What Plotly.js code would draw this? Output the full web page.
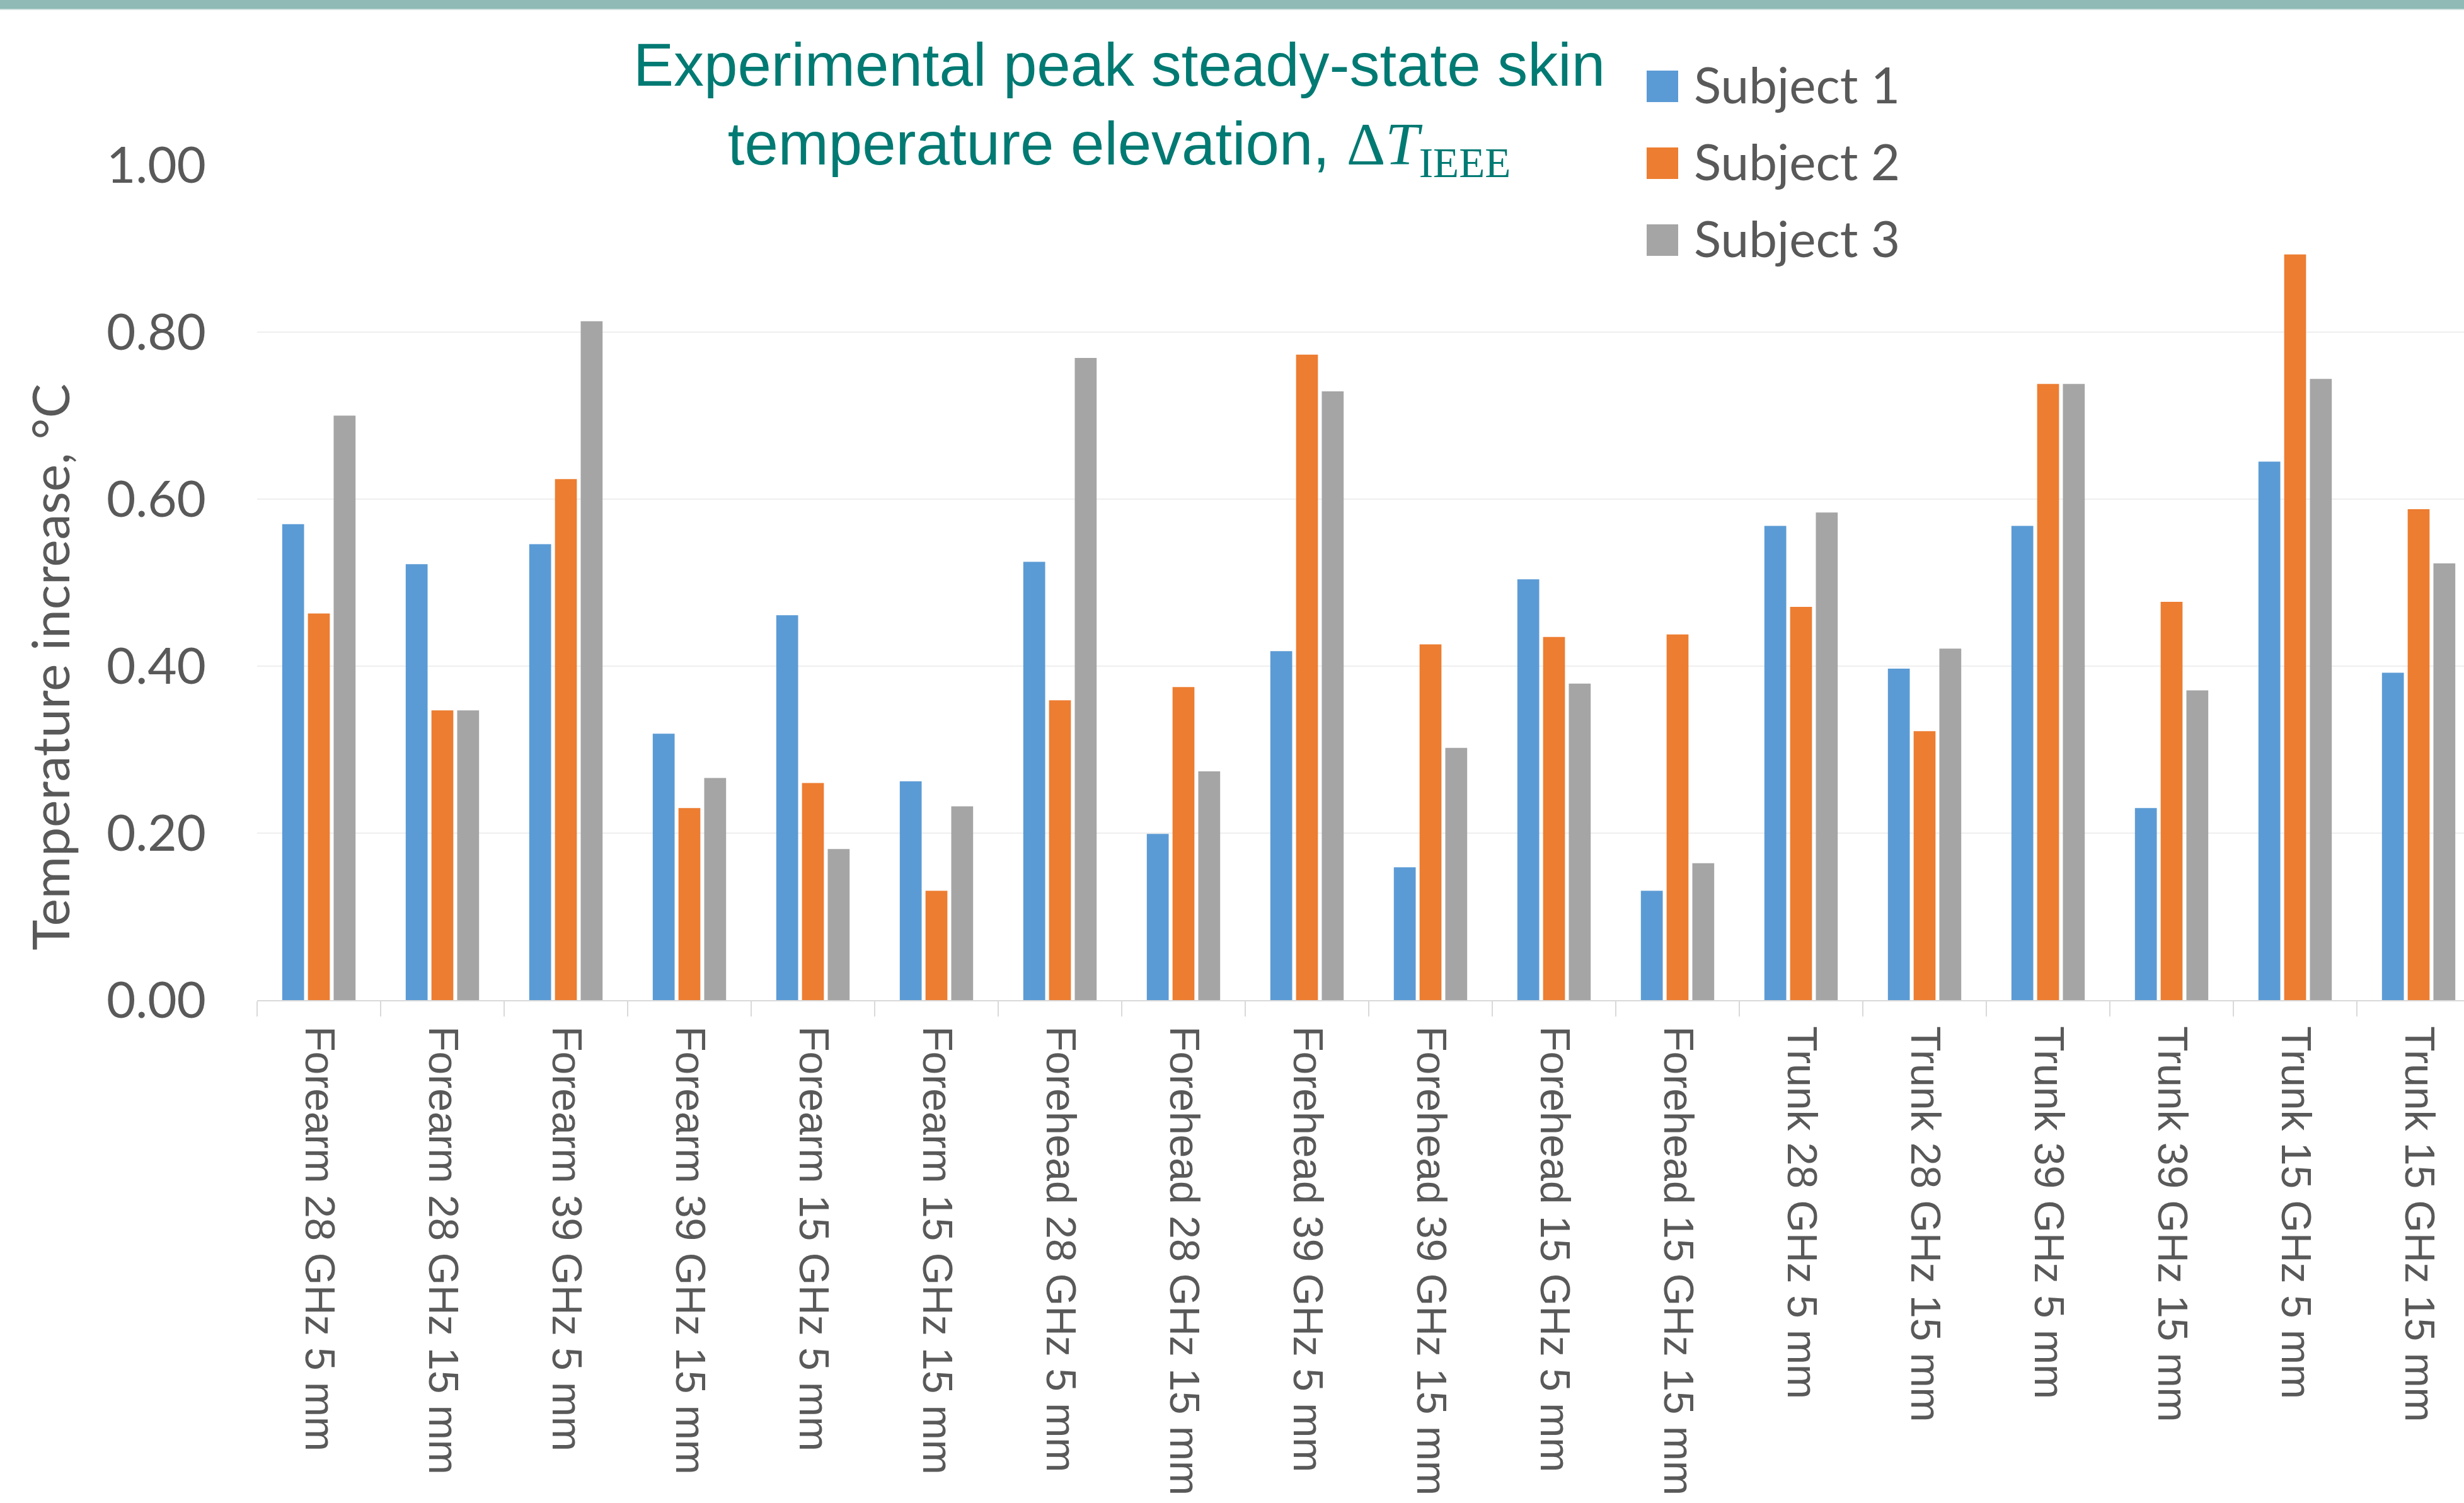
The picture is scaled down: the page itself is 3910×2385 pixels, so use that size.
<!DOCTYPE html>
<html>
<head>
<meta charset="utf-8">
<script src="https://cdn.plot.ly/plotly-3.0.1.min.js"></script>
<style>
  html, body { margin: 0; padding: 0; background: #ffffff; overflow: hidden; }
  #chart { width: 3910px; height: 2385px; position: absolute; left: 0; top: 0; }
  #topband { position: absolute; left: 0; top: 0; width: 3910px; height: 14px; background: #8fbab5; border-bottom: 2px solid #d3e3e1; z-index: 10; }
</style>
</head>
<body>
<div id="chart"></div>
<div id="topband"></div>
<script>
const categories = [
  "Forearm 28 GHz 5 mm", "Forearm 28 GHz 15 mm", "Forearm 39 GHz 5 mm", "Forearm 39 GHz 15 mm",
  "Forearm 15 GHz 5 mm", "Forearm 15 GHz 15 mm", "Forehead 28 GHz 5 mm", "Forehead 28 GHz 15 mm",
  "Forehead 39 GHz 5 mm", "Forehead 39 GHz 15 mm", "Forehead 15 GHz 5 mm", "Forehead 15 GHz 15 mm",
  "Trunk 28 GHz 5 mm", "Trunk 28 GHz 15 mm", "Trunk 39 GHz 5 mm", "Trunk 39 GHz 15 mm",
  "Trunk 15 GHz 5 mm", "Trunk 15 GHz 15 mm"
];
const subject1 = [0.570, 0.522, 0.546, 0.319, 0.461, 0.262, 0.525, 0.199, 0.418, 0.159, 0.504, 0.131, 0.568, 0.397, 0.568, 0.230, 0.645, 0.392];
const subject2 = [0.463, 0.347, 0.624, 0.230, 0.260, 0.131, 0.359, 0.375, 0.773, 0.426, 0.435, 0.438, 0.471, 0.322, 0.738, 0.477, 0.893, 0.588];
const subject3 = [0.700, 0.347, 0.813, 0.266, 0.181, 0.232, 0.769, 0.274, 0.729, 0.302, 0.379, 0.164, 0.584, 0.421, 0.738, 0.371, 0.744, 0.523];
const seriesNames = ["Subject 1", "Subject 2", "Subject 3"];
const seriesColors = ["#5B9BD5", "#ED7D31", "#A5A5A5"];
const yTickVals = [0, 0.2, 0.4, 0.6, 0.8, 1.0];
const yTickText = ["0.00", "0.20", "0.40", "0.60", "0.80", "1.00"];

const seriesValues = [subject1, subject2, subject3];
const traces = seriesValues.map((vals, i) => ({
  type: "bar",
  name: seriesNames[i],
  x: categories,
  y: vals,
  marker: { color: seriesColors[i], line: { width: 0 } },
  hoverinfo: "skip"
}));

// Layout geometry (pixels)
const W = 3910, H = 2385;
const mL = 408, mR = 0, mT = 262, mB = 798;
const plotW = W - mL - mR, plotH = H - mT - mB;
const px2paperX = p => (p - mL) / plotW;
const px2paperY = p => (H - mB - p) / plotH;

const shapes = [];
const annotations = [];
const legendRows = [137, 259, 381];
seriesNames.forEach((name, i) => {
  const cy = legendRows[i];
  shapes.push({
    type: "rect", xref: "paper", yref: "paper",
    x0: px2paperX(2613), x1: px2paperX(2663),
    y0: px2paperY(cy - 25), y1: px2paperY(cy + 25),
    fillcolor: seriesColors[i], line: { width: 0 }, layer: "above"
  });
  annotations.push({
    xref: "paper", yref: "paper", x: px2paperX(2686), y: px2paperY(cy - 4),
    xanchor: "left", yanchor: "middle", showarrow: false,
    text: name, font: { family: "Lato, 'Open Sans', sans-serif", size: 80, color: "#595959" }
  });
});
annotations.push({
  xref: "paper", yref: "paper", x: px2paperX(78), y: px2paperY(1059),
  xanchor: "center", yanchor: "middle", showarrow: false, textangle: -90,
  text: "Temperature increase, °C",
  font: { family: "Lato, 'Open Sans', sans-serif", size: 82, color: "#595959" }
});

const layout = {
  width: W, height: H,
  margin: { l: mL, r: mR, t: mT, b: mB, pad: 0 },
  paper_bgcolor: "#ffffff", plot_bgcolor: "#ffffff",
  showlegend: false,
  barmode: "group", bargap: 0.375, bargroupgap: 0.15,
  title: {
    text: "Experimental peak steady-state skin<br>temperature elevation, <span style=\"font-family:Liberation Serif\">Δ<i>T</i><sub>IEEE</sub></span>",
    font: { family: "'Liberation Sans', Arial, sans-serif", size: 96, color: "#007A73" },
    xref: "container", x: 1776 / W, xanchor: "center",
    yref: "container", y: 1 - 136 / H, yanchor: "top"
  },
  xaxis: {
    type: "category",
    range: [-0.5, -0.5 + plotW / 196],
    tickangle: 90,
    tickson: "boundaries", ticks: "outside", ticklen: 24, tickwidth: 2, tickcolor: "#d9d9d9",
    showline: true, linecolor: "#d9d9d9", linewidth: 2,
    showgrid: false, zeroline: false,
    tickfont: { family: "'Liberation Sans', Arial, sans-serif", size: 66, color: "#595959" },
    ticklabelstandoff: 26,
    fixedrange: true
  },
  yaxis: {
    range: [0, 1],
    tickvals: yTickVals, ticktext: yTickText,
    ticks: "", showline: false, zeroline: false,
    showgrid: true, gridcolor: "#eeeeee", gridwidth: 2,
    tickfont: { family: "Lato, 'Open Sans', sans-serif", size: 80, color: "#595959" },
    ticklabelstandoff: 80,
    fixedrange: true
  },
  shapes: shapes,
  annotations: annotations
};

Plotly.newPlot("chart", traces, layout, { staticPlot: true, displayModeBar: false });
</script>
</body>
</html>
